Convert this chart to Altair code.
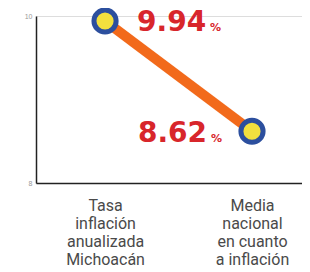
import altair as alt
import pandas as pd

categories = ["Tasa|inflación|anualizada|Michoacán", "Media|nacional|en cuanto|a inflación"]
values = [9.94, 8.62]
value_labels = ["9.94", "8.62"]
pct = ["%", "%"]

df = pd.DataFrame({"cat": categories, "val": values, "lab": value_labels, "pct": pct})

x = alt.X("cat:N", sort=categories,
          scale=alt.Scale(type="point", padding=0.405, align=0.58),
          axis=alt.Axis(title=None, labelExpr="split(datum.label, '|')", labelAngle=0,
                        labelFontSize=16, labelLineHeight=18, labelFont="Liberation Sans Narrow, Roboto",
                        labelColor="#4a4a4a", labelPadding=14, ticks=False,
                        domainColor="#222222", domainWidth=1.5, labelBaseline="top"))
y = alt.Y("val:Q", scale=alt.Scale(domain=[8, 10]),
          axis=alt.Axis(title=None, values=[8, 10], format="d", ticks=False, labelFontSize=7,
                        labelColor="#999999", domainColor="#222222", domainWidth=1.5,
                        labelPadding=4, grid=False))

base = alt.Chart(df).encode(x=x, y=y)

line = base.mark_line(color="#f26a1b", strokeWidth=10)
pts = base.mark_point(shape="circle", filled=True, size=491, fill="#f3e03e",
                      stroke="#2c4f9e", strokeWidth=5, opacity=1)

first = base.transform_filter(alt.datum.lab == "9.94")
second = base.transform_filter(alt.datum.lab == "8.62")

num1 = first.mark_text(align="left", baseline="alphabetic", dx=32, dy=10, fontSize=28,
                       fontWeight="bold", font="DejaVu Sans", color="#d8262b").encode(text="lab:N")
pc1 = first.mark_text(align="left", baseline="alphabetic", dx=105, dy=10, fontSize=11,
                      fontWeight="bold", font="DejaVu Sans", color="#d8262b").encode(text="pct:N")
num2 = second.mark_text(align="right", baseline="alphabetic", dx=-45, dy=11, fontSize=28,
                        fontWeight="bold", font="DejaVu Sans", color="#d8262b").encode(text="lab:N")
pc2 = second.mark_text(align="right", baseline="alphabetic", dx=-30, dy=11, fontSize=11,
                       fontWeight="bold", font="DejaVu Sans", color="#d8262b").encode(text="pct:N")

chart = alt.layer(line, pts, num1, pc1, num2, pc2).properties(
    width=266, height=167,
    autosize=alt.AutoSizeParams(type="none"),
    padding={"left": 28, "top": 8, "right": 0, "bottom": 86},
).configure_view(stroke=None).configure(background="white")

chart.save("out.html", embed_options={"renderer": "svg", "actions": False})
